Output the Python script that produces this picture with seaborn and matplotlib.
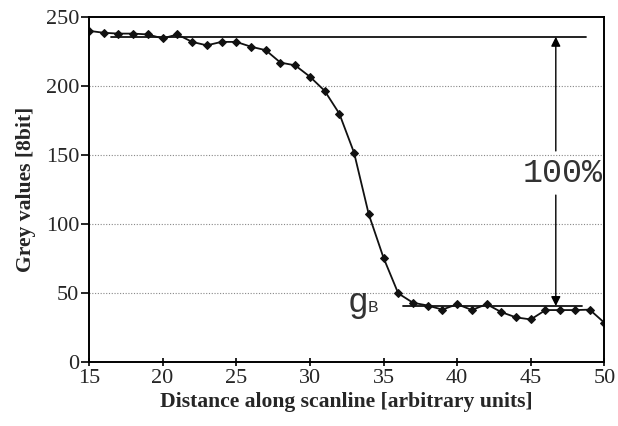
import matplotlib
matplotlib.use("Agg")
import matplotlib.pyplot as plt
import seaborn as sns
import pandas as pd
import numpy as np

distance = list(range(15, 51))
grey = [240, 238.6, 238, 238, 237.4, 234.5, 237.4, 232, 229.5, 232, 232, 228.5,
        226, 217, 215, 206.8, 196.6, 180, 151.7, 107, 75.6, 49.8, 43, 41, 38,
        42, 37.7, 42, 36.2, 32.4, 30.9, 37.7, 37.7, 37.7, 38, 28.5]

top_level = 235.7
bg_level = 40.6
top_range = [16.5, 48.75]
bg_range = [36.3, 48.5]
arrow_x = 46.7
x_ticks = [15, 20, 25, 30, 35, 40, 45, 50]
y_ticks = [0, 50, 100, 150, 200, 250]

df = pd.DataFrame({"distance": distance, "grey": grey})

sns.set_theme(style="white")
plt.rcParams['font.family'] = ['Liberation Serif', 'DejaVu Serif']

fig = plt.figure(figsize=(6.18, 4.26), dpi=100)
ax = fig.add_axes([0.144, 0.150, 0.834, 0.810])

for g in [50, 100, 150, 200]:
    ax.axhline(g, color="#888888", lw=0.8, ls=(0, (1, 1.5)), zorder=0)

sns.lineplot(data=df, x="distance", y="grey", ax=ax, color="#111111", lw=1.3,
             marker="D", markersize=4.5, markeredgecolor="#111111",
             markerfacecolor="#111111")

ax.plot(top_range, [top_level, top_level], color="#111111", lw=1.3)
ax.plot(bg_range, [bg_level, bg_level], color="#111111", lw=1.3)

ax.annotate("", xy=(arrow_x, top_level), xytext=(arrow_x, 153),
            arrowprops=dict(arrowstyle="-|>", color="black", lw=1.0,
                            mutation_scale=14, shrinkA=0, shrinkB=0))
ax.annotate("", xy=(arrow_x, bg_level), xytext=(arrow_x, 121),
            arrowprops=dict(arrowstyle="-|>", color="black", lw=1.0,
                            mutation_scale=14, shrinkA=0, shrinkB=0))

ax.text(47.15, 137, "100%", family="Liberation Mono", fontsize=24,
        ha="center", va="center", color="#333333")
ax.text(32.55, 36.3, "g", family="Liberation Mono", fontsize=25,
        ha="left", va="baseline", color="#333333")
ax.text(33.95, 36.3, "B", family="Liberation Mono", fontsize=12.5,
        ha="left", va="baseline", color="#333333")

ax.set_xlim(15, 50)
ax.set_ylim(0, 250)
ax.set_xticks(x_ticks)
ax.set_yticks(y_ticks)
ax.tick_params(axis="x", direction="inout", length=6, width=1.2, labelsize=16,
               pad=2, color="black")
ax.tick_params(axis="y", direction="out", length=6, width=1.2, labelsize=16,
               pad=1, color="black", left=True)
ax.tick_params(axis="x", bottom=True)
for s in ax.spines.values():
    s.set_color("black")
    s.set_linewidth(1.4)

ax.set_xlabel("Distance along scanline [arbitrary units]", fontsize=15.6,
              fontweight="bold", labelpad=3)
ax.set_ylabel("Grey values [8bit]", fontsize=15.6, fontweight="bold", labelpad=7)

fig.savefig("out.png", dpi=100)
